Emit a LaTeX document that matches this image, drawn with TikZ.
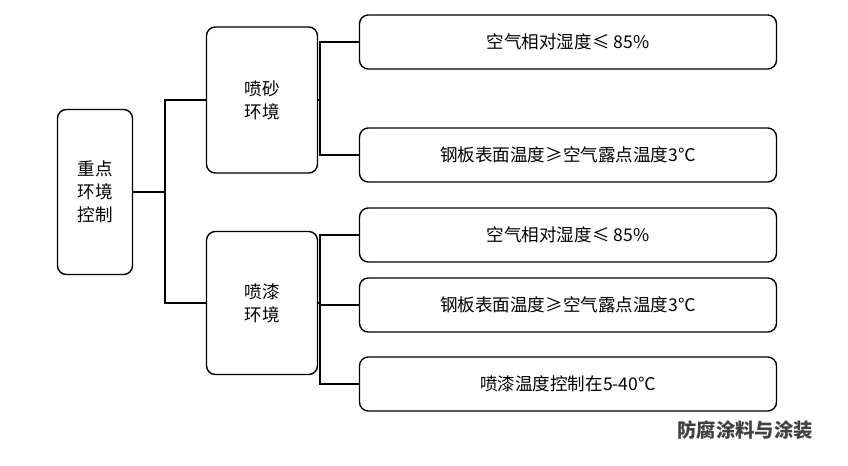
\documentclass[tikz,border=0pt]{standalone}
\usepackage{fontspec}
\setmainfont{Noto Sans CJK SC}
\begin{document}
\begin{tikzpicture}[x=0.02cm,y=-0.02cm,
    every node/.style={font=\fontsize{10}{13}\selectfont},
    box/.style={draw,thick,rounded corners=5pt,align=center,inner sep=0pt},
    link/.style={thick}]
\useasboundingbox (0,0) rectangle (848,466);
\node[box,minimum width=75*0.02cm,minimum height=165*0.02cm] (root) at (95,192) {重点\\环境\\控制};
\node[box,minimum width=111*0.02cm,minimum height=146*0.02cm] (sand) at (262,100) {喷砂\\环境};
\node[box,minimum width=111*0.02cm,minimum height=143*0.02cm] (paint) at (262,303) {喷漆\\环境};
\begin{scope}[every node/.append style={box,minimum width=417*0.02cm,minimum height=54*0.02cm}]
\node (s1) at (568,42) {空气相对湿度≤ 85\%};
\node (s2) at (568,155) {钢板表面温度≥空气露点温度3℃};
\node (p1) at (568,235) {空气相对湿度≤ 85\%};
\node (p2) at (568,305) {钢板表面温度≥空气露点温度3℃};
\node (p3) at (568,384) {喷漆温度控制在5-40℃};
\end{scope}
\coordinate (r) at (165,192);
\coordinate (a) at (320,100);
\coordinate (b) at (320,303);
\draw[link] (root.east) -- (r);
\draw[link] (sand.west) -| (r) |- (paint.west);
\draw[link] (sand.east) -- (a);
\draw[link] (s1.west) -| (a) |- (s2.west);
\draw[link] (paint.east) -- (b);
\draw[link] (p1.west) -| (b) |- (p3.west);
\draw[link] (b) |- (p2.west);
\node[font=\fontsize{11}{13}\selectfont\bfseries,text=black!75] (mark) at (745,430) {防腐涂料与涂装};
\end{tikzpicture}
\end{document}
